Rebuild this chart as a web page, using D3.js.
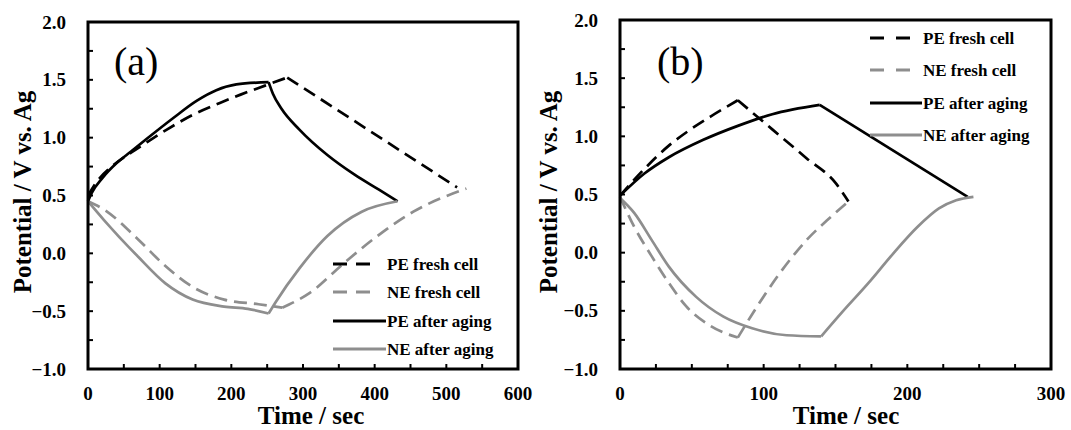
<!DOCTYPE html>
<html>
<head>
<meta charset="utf-8">
<style>
body { margin: 0; background: #fff; }
.frame { fill: none; stroke: #000; stroke-width: 3px; }
.tickLabel { font: bold 19px "Liberation Serif", "Times New Roman", serif; fill: #000; }
.axisTitle { font: bold 25px "Liberation Serif", "Times New Roman", serif; fill: #000; }
.panelTag { font: 40px "Liberation Serif", "Times New Roman", serif; fill: #000; }
.legendText { font: bold 17px "Liberation Serif", "Times New Roman", serif; fill: #000; }
</style>
<script src="https://cdn.jsdelivr.net/npm/d3@7"></script>
</head>
<body>
<div id="THE_CONTAINER"></div>
<script>

// [time (sec), potential (V vs. Ag)]
const peFreshA = [[0,0.5],[10,0.6],[35,0.76],[60,0.87],[82,0.96],[110,1.07],[147,1.2],[184,1.3],[212,1.37],[247,1.45],[278,1.52],[515,0.57]];
const neFreshA = [[0,0.45],[22,0.38],[70,0.12],[108,-0.11],[146,-0.29],[190,-0.40],[238,-0.44],[271,-0.47],[310,-0.34],[358,-0.08],[406,0.16],[454,0.36],[528,0.56]];
const peAgedA  = [[0,0.45],[5,0.52],[20,0.65],[40,0.78],[60,0.88],[82,0.99],[119,1.17],[152,1.32],[179,1.41],[207,1.46],[252,1.48],[258,1.38],[270,1.25],[295,1.07],[334,0.85],[372,0.68],[406,0.55],[432,0.45]];
const neAgedA  = [[0,0.45],[22,0.29],[70,-0.03],[108,-0.26],[146,-0.40],[190,-0.46],[223,-0.48],[252,-0.52],[262,-0.42],[295,-0.13],[334,0.15],[382,0.36],[432,0.45]];

const peFreshB = [[0,0.49],[17,0.72],[34,0.92],[48,1.05],[63,1.17],[82,1.31],[106,1.06],[130,0.81],[150,0.6],[159,0.44]];
const neFreshB = [[0,0.48],[10,0.22],[22,-0.03],[34,-0.26],[46,-0.46],[63,-0.63],[82,-0.73],[94,-0.49],[111,-0.18],[130,0.11],[147,0.31],[159,0.44]];
const peAgedB  = [[0,0.49],[17,0.68],[34,0.82],[58,0.97],[82,1.09],[106,1.19],[139,1.27],[242,0.48]];
const neAgedB  = [[0,0.47],[10,0.34],[22,0.11],[34,-0.12],[53,-0.38],[72,-0.55],[92,-0.65],[116,-0.71],[140,-0.72],[154,-0.52],[173,-0.26],[190,-0.01],[207,0.22],[222,0.38],[234,0.45],[246,0.48]];

const legendLabels = ["PE fresh cell", "NE fresh cell", "PE after aging", "NE after aging"];
const yTickLabels = [2.0, 1.5, 1.0, 0.5, 0.0, -0.5, -1.0];
const xTicksA = [0, 100, 200, 300, 400, 500, 600];
const xTicksB = [0, 100, 200, 300];

const styles = [
    { color: "#000", dash: "13,7" },
    { color: "#8e8e8e", dash: "13,7" },
    { color: "#000", dash: null },
    { color: "#8e8e8e", dash: null }
];

const svg = d3.select("#THE_CONTAINER")
.append("svg")
.attr("width", 1071)
.attr("height", 430);

function drawPanel(p) {
    const x = d3.scaleLinear().domain([0, p.xMax]).range([p.left, p.right]);
    const y = d3.scaleLinear().domain([-1, 2]).range([p.bottom, p.top]);
    const g = svg.append("g");

    // inward ticks on left and bottom
    const yMinor = d3.range(-1, 2.001, 0.25);
    g.selectAll(".yt").data(yMinor).enter().append("line")
    .attr("x1", p.left).attr("x2", p.left + 5)
    .attr("y1", d => y(d)).attr("y2", d => y(d))
    .attr("stroke", "#000").attr("stroke-width", 2);
    const xMinor = d3.range(0, p.xMax + 0.001, p.xStep);
    g.selectAll(".xt").data(xMinor).enter().append("line")
    .attr("x1", d => x(d)).attr("x2", d => x(d))
    .attr("y1", p.bottom).attr("y2", p.bottom - 5)
    .attr("stroke", "#000").attr("stroke-width", 2);

    // curves, split at the turning point so the corner stays sharp
    const line = d3.line().x(d => x(d[0])).y(d => y(d[1])).curve(d3.curveMonotoneX);
    p.series.forEach((s, i) => {
        const v0 = s[0][1];
        let k = 0;
        s.forEach((d, j) => { if (Math.abs(d[1] - v0) > Math.abs(s[k][1] - v0)) k = j; });
        [s.slice(0, k + 1), s.slice(k)].forEach(part => {
            g.append("path")
            .attr("d", line(part))
            .attr("fill", "none")
            .attr("stroke", styles[i].color)
            .attr("stroke-width", 2.7)
            .attr("stroke-dasharray", styles[i].dash);
        });
    });

    g.append("rect")
    .attr("class", "frame")
    .attr("x", p.left).attr("y", p.top)
    .attr("width", p.right - p.left).attr("height", p.bottom - p.top);

    g.selectAll(".yl").data(yTickLabels).enter().append("text")
    .attr("class", "tickLabel")
    .attr("x", p.left - 22).attr("y", d => y(d))
    .attr("text-anchor", "end").attr("dominant-baseline", "central")
    .text(d => d3.format(".1f")(d).replace("-", "\u2212"));

    g.selectAll(".xl").data(p.xTicks).enter().append("text")
    .attr("class", "tickLabel")
    .attr("x", d => x(d)).attr("y", p.bottom + 24)
    .attr("text-anchor", "middle").attr("dominant-baseline", "central")
    .text(d => d);

    g.append("text").attr("class", "axisTitle")
    .attr("x", p.xTitleX).attr("y", 424)
    .attr("text-anchor", "middle")
    .text("Time / sec");

    g.append("text").attr("class", "axisTitle")
    .attr("transform", `translate(${p.yTitleX}, 192) rotate(-90)`)
    .attr("text-anchor", "middle").attr("dominant-baseline", "central")
    .text("Potential / V vs. Ag");

    g.append("text").attr("class", "panelTag")
    .attr("x", p.tagX).attr("y", 75)
    .text(p.tag);

    // legend
    const lg = g.selectAll(".lg").data(legendLabels).enter().append("g")
    .attr("transform", (d, i) => `translate(0, ${p.legY[i]})`);
    lg.append("line")
    .attr("x1", p.legX)
    .attr("x2", (d, i) => styles[i].dash ? p.legX + p.legDashLen : p.legTextX - 1)
    .attr("y1", 0).attr("y2", 0)
    .attr("stroke", (d, i) => styles[i].color)
    .attr("stroke-width", 3)
    .attr("stroke-dasharray", (d, i) => styles[i].dash ? p.legDash : null);
    lg.append("text").attr("class", "legendText")
    .attr("x", p.legTextX).attr("y", 0)
    .attr("dominant-baseline", "central")
    .text(d => d);
}

drawPanel({
    left: 88, right: 518, top: 22, bottom: 369, xMax: 600, xStep: 50, xTicks: xTicksA,
    series: [peFreshA, neFreshA, peAgedA, neAgedA],
    xTitleX: 311, yTitleX: 22, tag: "(a)", tagX: 114,
    legX: 333, legTextX: 387, legDashLen: 38, legDash: "14,9", legY: [264, 292, 321, 349]
});

drawPanel({
    left: 620, right: 1051, top: 20, bottom: 369, xMax: 300, xStep: 25, xTicks: xTicksB,
    series: [peFreshB, neFreshB, peAgedB, neAgedB],
    xTitleX: 846, yTitleX: 548, tag: "(b)", tagX: 657,
    legX: 870, legTextX: 923, legDashLen: 40, legDash: "14,12", legY: [38, 70, 103, 135]
});

</script>
</body>
</html>
